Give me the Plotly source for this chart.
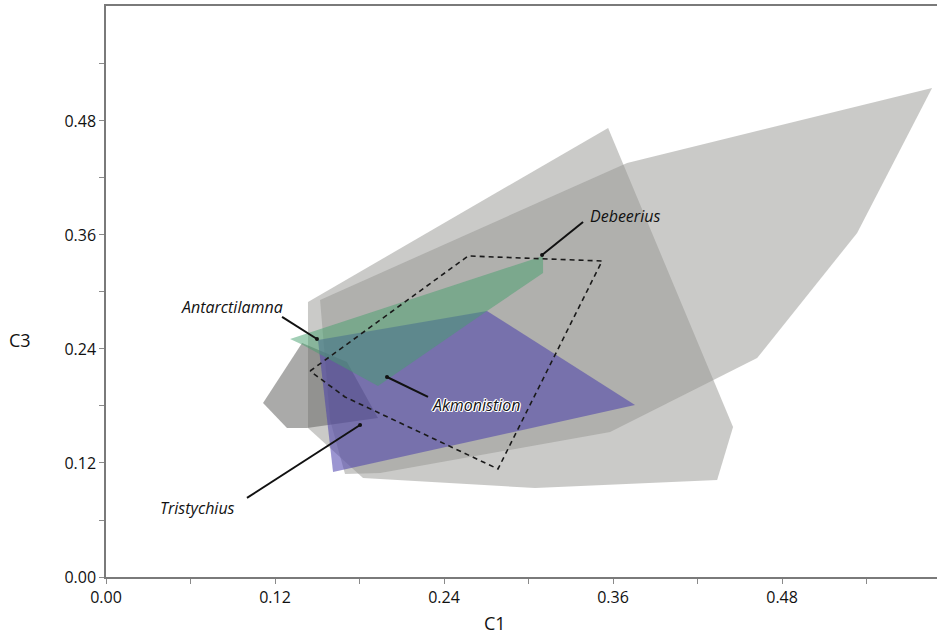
import plotly.graph_objects as go

# Convex-hull style outlines in C1 / C3 morphospace
gray_a_c1 = [0.1434, 0.3565, 0.4452, 0.4339, 0.3046, 0.1825, 0.1434]
gray_a_c3 = [0.2895, 0.4726, 0.1579, 0.1021, 0.0937, 0.1042, 0.1568]

gray_b_c1 = [0.1520, 0.3700, 0.5865, 0.5333, 0.4623, 0.3579, 0.1946, 0.1697, 0.1591]
gray_b_c3 = [0.2916, 0.4358, 0.5147, 0.3621, 0.2305, 0.1526, 0.1095, 0.1084, 0.1653]

gray_c_c1 = [0.1115, 0.1321, 0.1392, 0.1711, 0.1931, 0.1427, 0.1285]
gray_c_c3 = [0.1832, 0.2305, 0.2463, 0.2263, 0.1674, 0.1568, 0.1568]

blue_c1 = [0.1505, 0.2705, 0.3756, 0.1612]
blue_c3 = [0.2495, 0.2800, 0.1811, 0.1105]

green_c1 = [0.1307, 0.3103, 0.3103, 0.2705, 0.1931, 0.1399]
green_c3 = [0.2505, 0.3379, 0.3200, 0.2800, 0.2011, 0.2442]

dashed_c1 = [0.1449, 0.2571, 0.3522, 0.2783, 0.1697, 0.1449]
dashed_c3 = [0.2168, 0.3379, 0.3326, 0.1137, 0.1895, 0.2168]

# Taxon labels: text position and leader line (start -> pointed end)
taxa = ["Antarctilamna", "Debeerius", "Akmonistion", "Tristychius"]
label_c1 = [0.0895, 0.3685, 0.2627, 0.0653]
label_c3 = [0.2842, 0.3800, 0.1811, 0.0726]
leader_start_c1 = [0.1250, 0.3387, 0.2286, 0.1001]
leader_start_c3 = [0.2737, 0.3737, 0.1895, 0.0832]
leader_end_c1 = [0.1498, 0.3096, 0.1995, 0.1804]
leader_end_c3 = [0.2505, 0.3389, 0.2105, 0.1600]

tick_vals = [0.00, 0.06, 0.12, 0.18, 0.24, 0.30, 0.36, 0.42, 0.48, 0.54]
tick_text = ["0.00", "", "0.12", "", "0.24", "", "0.36", "", "0.48", ""]

fig = go.Figure()


def hull(xs, ys, color):
    fig.add_trace(go.Scatter(
        x=xs, y=ys, mode="lines", fill="toself", fillcolor=color,
        line=dict(width=0), hoverinfo="skip", showlegend=False))


hull(gray_a_c1, gray_a_c3, "rgba(150,150,146,0.5)")
hull(gray_b_c1, gray_b_c3, "rgba(150,150,146,0.5)")
hull(gray_c_c1, gray_c_c3, "rgba(100,100,98,0.55)")
hull(blue_c1, blue_c3, "rgba(72,62,172,0.55)")
hull(green_c1, green_c3, "rgba(70,160,110,0.5)")

fig.add_trace(go.Scatter(
    x=dashed_c1, y=dashed_c3, mode="lines",
    line=dict(color="#1a1a1a", width=1.6, dash="5px,4px"),
    hoverinfo="skip", showlegend=False))

halo = ("white 1px 0px 0px, white -1px 0px 0px, white 0px 1px 0px, "
        "white 0px -1px 0px, white 1px 1px 0px, white -1px -1px 0px")

for i, name in enumerate(taxa):
    fig.add_trace(go.Scatter(
        x=[leader_start_c1[i], leader_end_c1[i]],
        y=[leader_start_c3[i], leader_end_c3[i]],
        mode="lines", line=dict(color="#111111", width=2),
        hoverinfo="skip", showlegend=False))
    fig.add_trace(go.Scatter(
        x=[leader_end_c1[i]], y=[leader_end_c3[i]], mode="markers",
        marker=dict(color="#111111", size=4),
        hoverinfo="skip", showlegend=False))
    fig.add_annotation(
        x=label_c1[i], y=label_c3[i], xref="x", yref="y", text=name,
        showarrow=False, xanchor="center", yanchor="middle",
        font=dict(family="Open Sans", size=16, color="#111111", style="italic",
                  shadow=halo if name == "Akmonistion" else "none"))

fig.add_annotation(x=0.468, y=-0.081, xref="paper", yref="paper", text="C1",
                   showarrow=False, xanchor="center", yanchor="middle",
                   font=dict(family="Open Sans", size=18, color="#111111"))
fig.add_annotation(x=-0.104, y=0.415, xref="paper", yref="paper", text="C3",
                   showarrow=False, xanchor="center", yanchor="middle",
                   font=dict(family="Open Sans", size=18, color="#111111"))

axis_common = dict(
    tickvals=tick_vals, ticktext=tick_text, ticks="outside", ticklen=5,
    tickwidth=1.2, tickcolor="#8a8a8a", showline=True, linecolor="#7a7a7a",
    linewidth=1.5, showgrid=False, zeroline=False,
    tickfont=dict(family="Open Sans", size=16, color="#111111"))

fig.update_xaxes(range=[0, 0.590], mirror=True, **axis_common)
fig.update_yaxes(range=[0, 0.601], **axis_common)

fig.update_layout(
    width=937, height=639,
    margin=dict(l=106, r=0, t=6, b=62),
    paper_bgcolor="white", plot_bgcolor="white",
)

fig.write_html("out.html")
